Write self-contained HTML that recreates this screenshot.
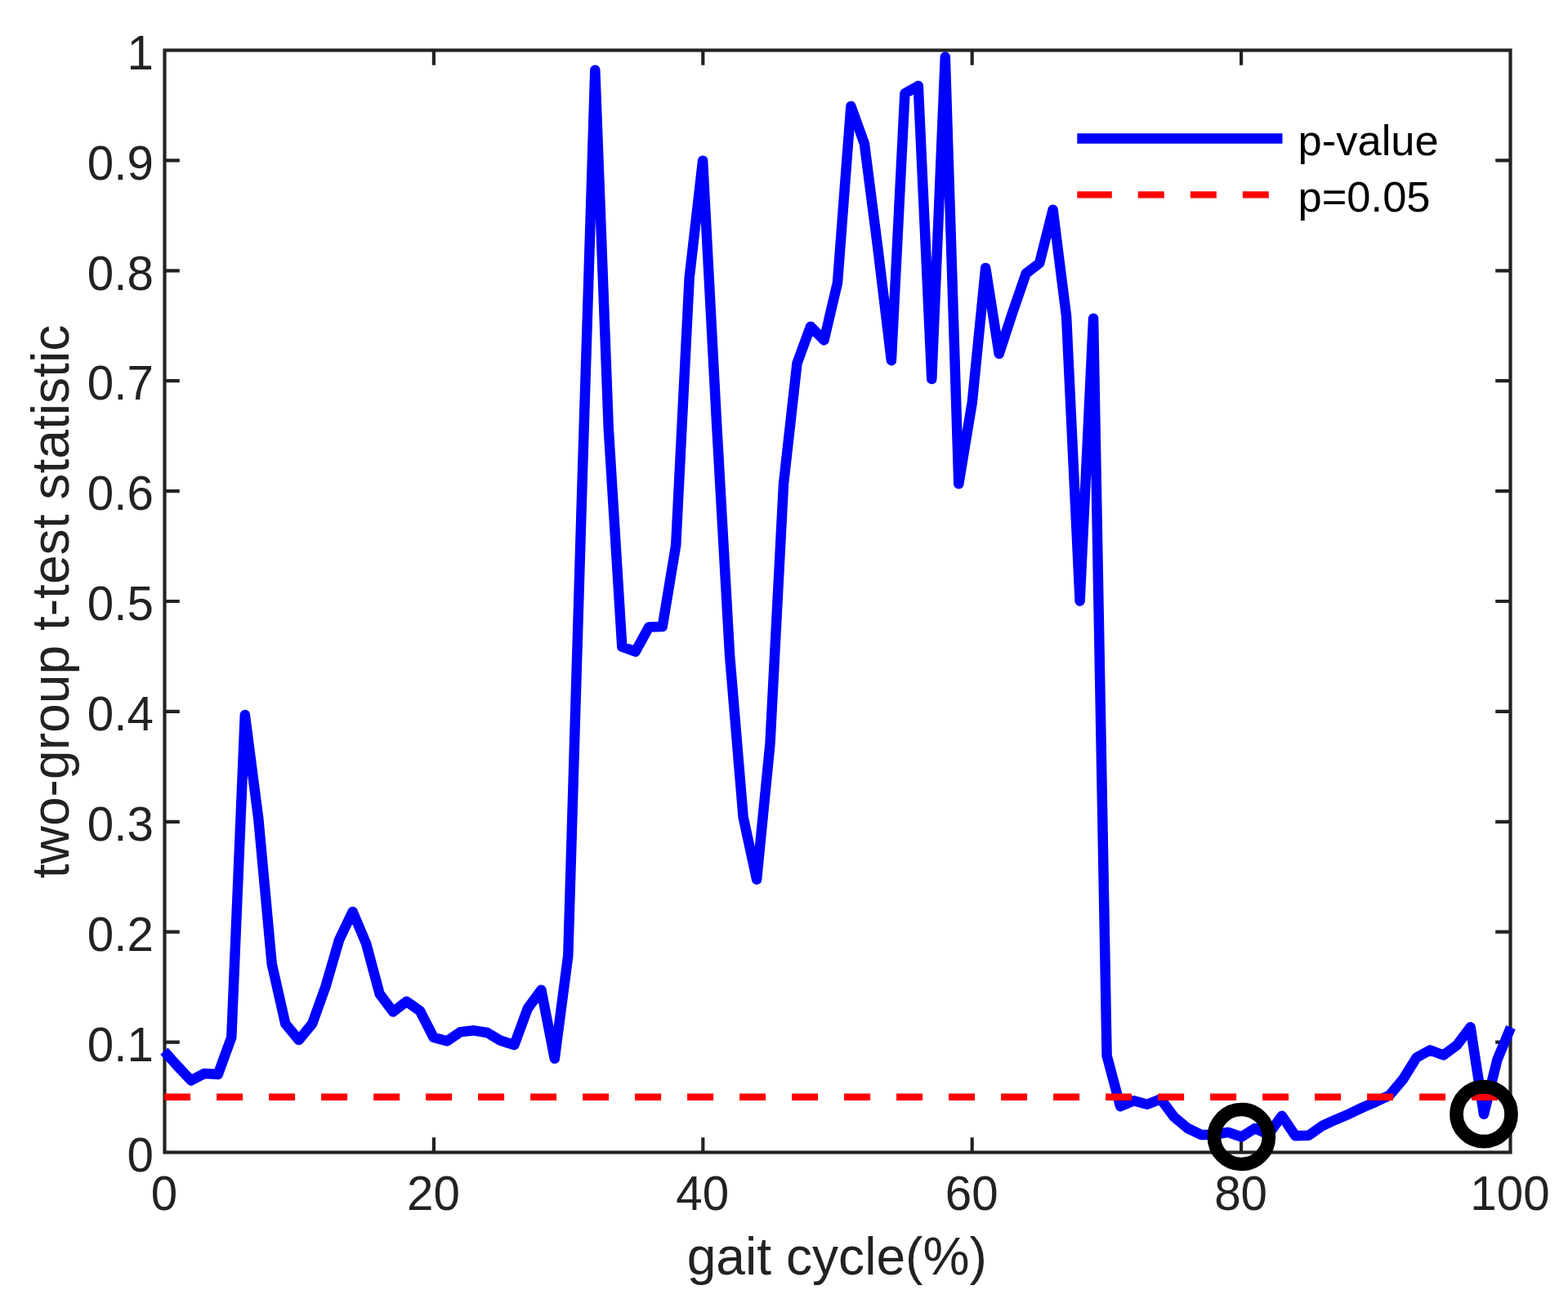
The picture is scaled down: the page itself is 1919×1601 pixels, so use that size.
<!DOCTYPE html>
<html lang="en">
<head>
<meta charset="utf-8">
<title>two-group t-test statistic vs gait cycle</title>
<style>
html,body{margin:0;padding:0;background:#fff;}
body{width:1919px;height:1601px;overflow:hidden;}
svg{display:block;}
text{font-family:"Liberation Sans",sans-serif;}
.tk{font-size:58.33px;fill:#222222;}
.lb{font-size:64.17px;fill:#222222;}
.lg{font-size:52.50px;fill:#000;}
</style>
</head>
<body>
<svg width="1919" height="1601" viewBox="0 0 1919 1601">
<rect x="0" y="0" width="1919" height="1601" fill="#ffffff"/>
<g stroke="#222222" stroke-width="4.17" fill="none" stroke-linecap="butt">
<rect x="201.50" y="61.50" width="1647.00" height="1349.00" stroke-linejoin="miter"/>
<path d="M530.90 1410.50V1392.20M530.90 61.50V79.80M860.30 1410.50V1392.20M860.30 61.50V79.80M1189.70 1410.50V1392.20M1189.70 61.50V79.80M1519.10 1410.50V1392.20M1519.10 61.50V79.80M201.50 1275.60H219.80M1848.50 1275.60H1830.20M201.50 1140.70H219.80M1848.50 1140.70H1830.20M201.50 1005.80H219.80M1848.50 1005.80H1830.20M201.50 870.90H219.80M1848.50 870.90H1830.20M201.50 736.00H219.80M1848.50 736.00H1830.20M201.50 601.10H219.80M1848.50 601.10H1830.20M201.50 466.20H219.80M1848.50 466.20H1830.20M201.50 331.30H219.80M1848.50 331.30H1830.20M201.50 196.40H219.80M1848.50 196.40H1830.20"/>
</g>
<g class="tk" text-anchor="end">
<text transform="translate(187.90 1433.70) scale(1 1.030)">0</text>
<text transform="translate(187.90 1298.80) scale(1 1.030)">0.1</text>
<text transform="translate(187.90 1163.90) scale(1 1.030)">0.2</text>
<text transform="translate(187.90 1029.00) scale(1 1.030)">0.3</text>
<text transform="translate(187.90 894.10) scale(1 1.030)">0.4</text>
<text transform="translate(187.90 759.20) scale(1 1.030)">0.5</text>
<text transform="translate(187.90 624.30) scale(1 1.030)">0.6</text>
<text transform="translate(187.90 489.40) scale(1 1.030)">0.7</text>
<text transform="translate(187.90 354.50) scale(1 1.030)">0.8</text>
<text transform="translate(187.90 219.60) scale(1 1.030)">0.9</text>
<text transform="translate(187.90 84.70) scale(1 1.030)">1</text>
</g>
<g class="tk" text-anchor="middle">
<text transform="translate(201.00 1481.00) scale(1 1.030)">0</text>
<text transform="translate(530.40 1481.00) scale(1 1.030)">20</text>
<text transform="translate(859.80 1481.00) scale(1 1.030)">40</text>
<text transform="translate(1189.20 1481.00) scale(1 1.030)">60</text>
<text transform="translate(1518.60 1481.00) scale(1 1.030)">80</text>
<text transform="translate(1848.00 1481.00) scale(1 1.030)">100</text>
</g>
<text class="lb" text-anchor="middle" x="1024.30" y="1560.40">gait cycle(%)</text>
<text class="lb" text-anchor="middle" transform="translate(84.00 736.50) rotate(-90)">two-group t-test statistic</text>
<polyline fill="none" stroke="#0000ff" stroke-width="12.50" stroke-linejoin="round" stroke-linecap="butt" points="200.9,1286.7 217.4,1305.1 233.9,1322.5 250.3,1313.9 266.8,1315.0 283.3,1269.7 299.8,875.1 316.3,1002.4 332.7,1179.8 349.2,1252.9 365.7,1272.9 382.2,1252.9 398.7,1206.8 415.2,1150.1 431.6,1115.9 448.1,1154.9 464.6,1216.5 481.1,1238.4 497.6,1225.8 514.0,1237.3 530.5,1269.7 547.0,1274.3 563.5,1263.1 580.0,1261.3 596.4,1264.0 612.9,1273.8 629.4,1279.0 645.9,1234.2 662.4,1211.7 678.8,1295.7 695.3,1169.6 711.8,615.9 728.3,85.8 744.8,524.9 761.3,791.7 777.7,797.5 794.2,767.6 810.7,767.0 827.2,667.5 843.7,339.7 860.1,196.7 876.6,509.4 893.1,802.5 909.6,1000.1 926.1,1076.5 942.5,910.0 959.0,592.3 975.5,444.6 992.0,399.7 1008.5,416.4 1025.0,346.1 1041.4,130.0 1057.9,175.9 1074.4,304.3 1090.9,441.2 1107.4,114.5 1123.8,105.1 1140.3,464.0 1156.8,69.6 1173.3,592.3 1189.8,492.4 1206.2,327.9 1222.7,433.0 1239.2,382.6 1255.7,334.7 1272.2,322.1 1288.6,256.7 1305.1,387.3 1321.6,735.7 1338.1,389.7 1354.6,1292.2 1371.1,1354.2 1387.5,1347.2 1404.0,1351.7 1420.5,1345.2 1437.0,1367.2 1453.5,1381.0 1469.9,1388.9 1486.4,1388.9 1502.9,1385.9 1519.4,1391.5 1535.9,1381.0 1552.3,1388.5 1568.8,1365.8 1585.3,1390.3 1601.8,1389.7 1618.3,1378.0 1634.7,1370.4 1651.2,1363.4 1667.7,1355.5 1684.2,1348.4 1700.7,1340.5 1717.2,1320.9 1733.6,1294.5 1750.1,1285.4 1766.6,1291.5 1783.1,1279.2 1799.6,1257.3 1816.0,1363.7 1832.5,1296.8 1849.0,1257.5"/>
<line x1="201.10" y1="1342.75" x2="1848.50" y2="1342.75" stroke="#ff0000" stroke-width="8.33" stroke-dasharray="32 32" stroke-dashoffset="0.00"/>
<circle cx="1519.38" cy="1391.48" r="33.50" fill="none" stroke="#000000" stroke-width="16.67"/>
<circle cx="1816.04" cy="1363.69" r="33.50" fill="none" stroke="#000000" stroke-width="16.67"/>
<line x1="1318.30" y1="169.50" x2="1569.50" y2="169.50" stroke="#0000ff" stroke-width="12.50"/>
<path d="M1318.30 238.40h42.5m32 0h32m32 0h32m32 0h32" fill="none" stroke="#ff0000" stroke-width="8.33"/>
<text class="lg" x="1588.50" y="189.90">p-value</text>
<text class="lg" x="1588.50" y="259.00">p=0.05</text>
</svg>
</body>
</html>
